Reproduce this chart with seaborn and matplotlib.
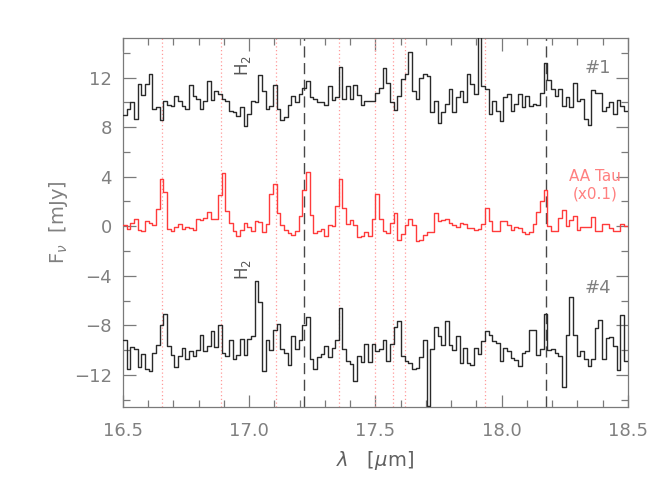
import numpy as np
import pandas as pd
import matplotlib
matplotlib.use("Agg")
import matplotlib.pyplot as plt
import seaborn as sns
from matplotlib.ticker import MultipleLocator

# ---- data -------------------------------------------------------------
wave_start = 16.5
wave_end = 18.5
n_bins = 138

flux_1 = [
    9.0, 9.5, 10.0, 8.7, 11.5, 10.6, 11.5, 12.3, 9.5, 9.6,
    8.6, 10.1, 9.8, 9.7, 10.5, 10.1, 9.7, 9.5, 11.4, 10.5,
    10.3, 9.5, 10.1, 11.7, 10.2, 10.9, 10.7, 10.3, 10.1, 9.3,
    9.2, 8.9, 9.6, 8.1, 9.1, 10.1, 10.0, 12.2, 10.9, 9.5,
    9.7, 11.4, 9.5, 8.6, 8.8, 9.8, 10.5, 10.0, 10.7, 11.2,
    11.7, 10.4, 10.3, 10.0, 10.0, 9.8, 11.3, 10.2, 10.4, 12.9,
    10.3, 11.3, 10.3, 11.4, 10.6, 9.8, 10.1, 10.1,
    10.1, 10.8, 11.2, 12.8, 11.6, 10.0, 9.4, 10.5, 11.9, 12.3,
    14.1, 10.9, 10.3, 12.0, 12.3, 12.1, 9.2, 10.1, 8.3, 9.2,
    9.9, 11.1, 9.2, 10.4, 10.9, 10.0, 12.3, 11.5, 10.7, 16.0,
    11.3, 11.1, 9.1, 10.1, 9.3, 8.5, 10.4, 10.7, 9.3, 9.9,
    10.7, 9.6, 10.5, 9.7, 9.9, 9.8, 10.8, 13.2, 11.8, 11.1,
    10.5, 11.1, 9.7, 10.4, 9.6, 11.6, 10.1, 10.3, 8.7, 8.2,
    11.0, 10.8, 10.8, 9.3, 9.6, 10.0, 9.1, 10.2, 9.7, 9.3,
]

flux_aatau = [
    0.13, -0.2, 0.27, 0.6, -0.27, -0.4, 0.45, 0.3, 0.1, 1.4,
    3.8, 2.75, -0.2, -0.4, -0.1, 0.2, -0.2, -0.1, -0.13, -0.27,
    0.6, 0.5, 0.7, 1.15, 0.6, 0.6, 2.5, 4.3, 1.25, 0.27,
    -0.35, -0.8, -0.27, 0.27, -0.1, -0.4, 0.45, 0.35, -0.5, 0.2,
    2.6, 3.4, 1.1, 0.1, -0.27, -0.55, -0.7, -0.4, 0.85, 2.9,
    4.35, 0.9, -0.55, -0.4, -0.2, -0.8, 0.1, 0.0, 1.65, 3.8,
    1.45, 0.2, 0.5, 0.1, -0.9, -0.8, -0.45, -0.8, 0.6, 2.6,
    0.6, -0.35, -0.55, 0.3, 1.1, -1.15, -0.6, 0.13, 0.6, 0.13,
    -1.2, -1.15, -0.7, -0.5, -0.45, 1.05, 0.45, 0.5, 0.6, 0.3,
    0.13, -0.03, 0.3, 0.2, -0.13, -0.13, -0.27, -0.2, 0.2, 1.45,
    0.45, -0.35, -0.35, 0.45, 0.4, 0.13, -0.3, -0.08, -0.16, -0.5,
    -0.65, -0.5, 0.2, 1.15, 2.05, 2.9, 0.05, -0.35, -0.35, 0.7,
    1.3, 0.05, 0.5, 0.8, -0.3, -0.03, -0.08, -0.08, 0.75, -0.35,
    -0.35, 0.2, 0.2, -0.13, -0.35, -0.35, 0.2, 0.05,
]

flux_4 = [
    -9.15, -11.5, -9.75, -9.9, -11.4, -10.3, -11.5, -11.7, -10.2, -9.6,
    -8.0, -7.1, -9.7, -10.4, -11.4, -10.5, -9.8, -10.75, -10.1, -10.5,
    -10.0, -8.8, -10.1, -9.7, -8.45, -9.75, -8.0, -10.25, -10.5, -9.15,
    -10.75, -10.4, -9.1, -10.4, -9.1, -8.9, -4.45, -6.1, -11.7, -9.2,
    -10.0, -8.35, -7.9, -9.9, -10.25, -11.2, -8.9, -9.9, -9.2, -8.0,
    -7.3, -10.7, -11.5, -10.6, -10.3, -9.7, -10.6, -9.8, -9.2, -6.6,
    -9.95, -10.85, -11.1, -12.5, -10.5, -11.0, -9.5, -11.0,
    -9.5, -10.1, -9.95, -9.15, -10.9, -9.5, -8.1, -7.65, -10.5, -10.9,
    -11.05, -11.55, -11.45, -10.6, -9.15, -14.5, -9.95, -8.1, -8.9, -9.6,
    -7.65, -9.6, -10.0, -8.9, -11.05, -9.85, -11.05, -11.2, -9.8, -10.3,
    -9.3, -8.5, -8.8, -9.3, -9.45, -10.85, -9.85, -10.05, -10.65, -10.8,
    -11.3, -10.2, -10.1, -8.35, -8.4, -10.4, -9.95, -7.05, -10.0, -9.95,
    -10.2, -10.5, -13.0, -8.8, -5.75, -8.8, -10.5, -10.1, -10.75, -11.3,
    -10.75, -8.2, -7.6, -10.75, -9.0, -8.95, -9.7, -11.65, -7.2, -10.9,
]

series_names = ["#1", "AA Tau", "#4"]
series_colors = ["#2a2a2a", "#ff3b3b", "#2a2a2a"]

lines_dotted = [16.656, 16.887, 17.106, 17.357, 17.499, 17.569, 17.618, 17.935]
lines_dashed = [17.217, 18.175]

x_ticks = [16.5, 17.0, 17.5, 18.0, 18.5]
y_ticks = [-12, -8, -4, 0, 4, 8, 12]

# ---- build table ------------------------------------------------------
edges = np.linspace(wave_start, wave_end, n_bins + 1)
frames = []
for name, vals in zip(series_names, [flux_1, flux_aatau, flux_4]):
    yv = list(vals) + [vals[-1]]
    frames.append(pd.DataFrame({"wave": edges, "flux": yv, "series": name}))
df = pd.concat(frames, ignore_index=True)

# ---- style ------------------------------------------------------------
sns.set_style("ticks")
plt.rcParams["font.family"] = ["DejaVu Sans"]
grey = "#7a7a7a"
txt = "#808080"

fig = plt.figure(figsize=(6.65, 4.90), dpi=100)
ax = fig.add_axes([0.185, 0.1694, 0.759, 0.7530])

for xv in lines_dotted:
    ax.axvline(xv, color="#ff9a9a", lw=0.9, ls=(0, (1, 2)), zorder=1)
for xv in lines_dashed:
    ax.axvline(xv, color="#484848", lw=1.0, ls=(0, (8, 4)), zorder=1)

sns.lineplot(data=df, x="wave", y="flux", hue="series",
             palette=dict(zip(series_names, series_colors)),
             estimator=None, sort=False, drawstyle="steps-post",
             lw=1.0, legend=False, ax=ax, zorder=3)

ax.set_xlim(wave_start, wave_end)
ax.set_ylim(-14.6, 15.2)
ax.set_xticks(x_ticks)
ax.set_xticklabels([f"{v:.1f}" for v in x_ticks])
ax.set_yticks(y_ticks)
ax.set_yticklabels([str(v).replace("-", "\u2212") for v in y_ticks])
ax.xaxis.set_minor_locator(MultipleLocator(0.1))
ax.yaxis.set_minor_locator(MultipleLocator(2))

ax.tick_params(which="both", direction="in", top=True, right=True,
               color=grey, width=0.9, labelcolor=txt, labelsize=13)
ax.tick_params(which="major", length=9)
ax.tick_params(which="minor", length=5)
ax.tick_params(axis="x", which="major", pad=11)
ax.tick_params(axis="y", which="major", pad=8)
for sp in ax.spines.values():
    sp.set_color(grey)
    sp.set_linewidth(0.9)
    sp.set_visible(True)

ax.set_xlabel(r"$\lambda$   [$\mu$m]", color="#606060", fontsize=14, labelpad=6)
ax.set_ylabel(r"F$_\nu$  [mJy]", color=txt, fontsize=14, labelpad=3)

ax.text(16.975, 13.0, r"H$_2$", rotation=90, color="#555555", fontsize=12,
        ha="center", va="center")
ax.text(16.975, -3.5, r"H$_2$", rotation=90, color="#555555", fontsize=12,
        ha="center", va="center")
ax.text(18.38, 12.8, "#1", color=txt, fontsize=13, ha="center", va="center")
ax.text(18.38, -5.0, "#4", color=txt, fontsize=13, ha="center", va="center")
ax.text(18.37, 4.0, "AA Tau", color="#ff8080", fontsize=11, ha="center", va="center")
ax.text(18.37, 2.6, "(x0.1)", color="#ff8080", fontsize=11, ha="center", va="center")

fig.savefig("out.png", dpi=100)
